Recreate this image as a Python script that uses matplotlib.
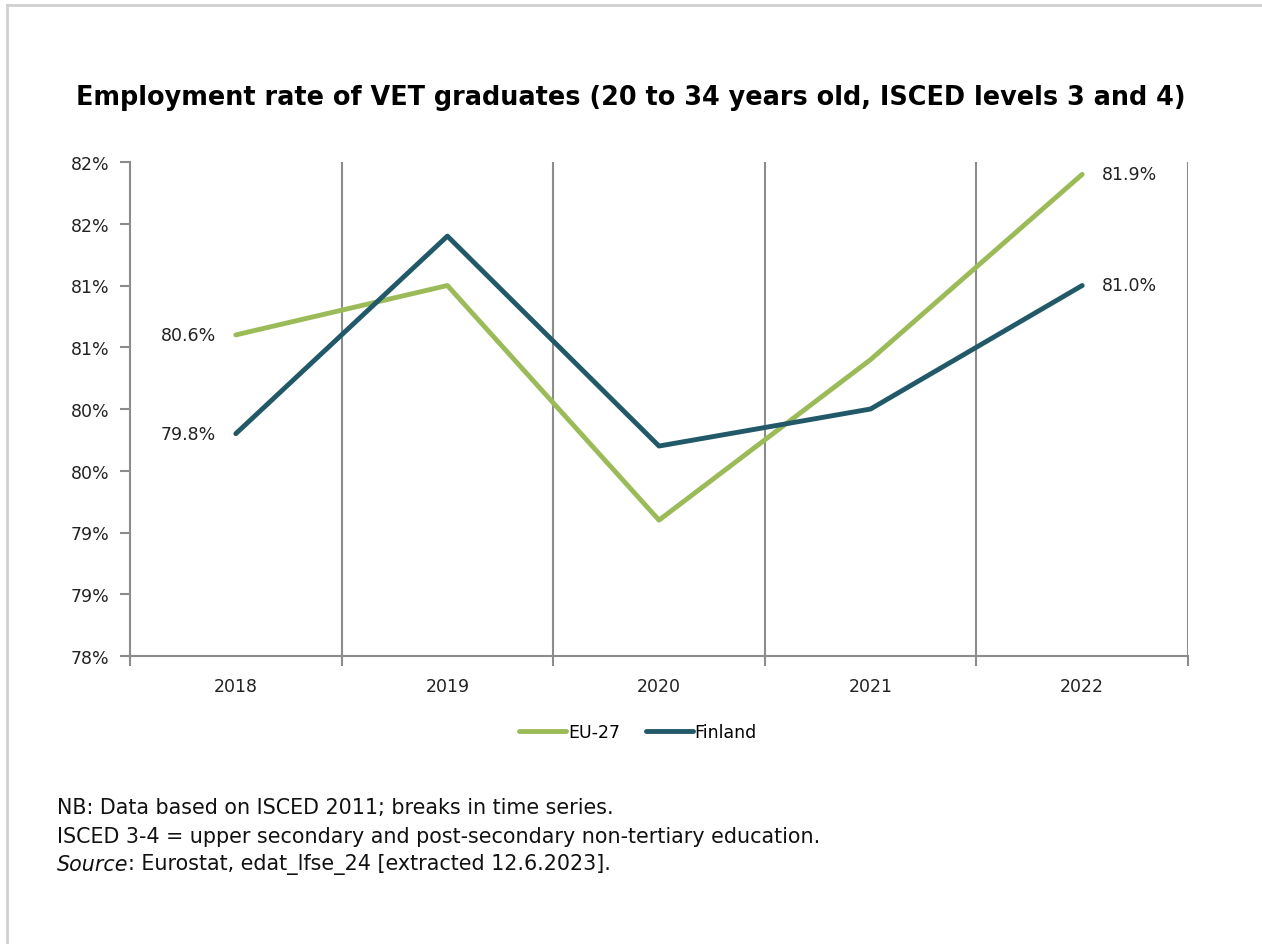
import matplotlib.pyplot as plt
from matplotlib.lines import Line2D

plt.rcParams['font.family'] = ['DejaVu Sans']

# Data
years = ['2018', '2019', '2020', '2021', '2022']
eu27 = [80.6, 81.0, 79.1, 80.4, 81.9]
finland = [79.8, 81.4, 79.7, 80.0, 81.0]
y_ticks = [78.0, 78.5, 79.0, 79.5, 80.0, 80.5, 81.0, 81.5, 82.0]
y_tick_labels = ['78%', '79%', '79%', '80%', '80%', '81%', '81%', '82%', '82%']

green = '#9BBB59'
teal = '#215968'
grid_grey = '#8c8c8c'

fig = plt.figure(figsize=(12.62, 9.45), dpi=100)

# light border along top and left edge
fig.add_artist(Line2D([7/1262, 7/1262], [0, 1 - 6/945], color='#d0d0d0', lw=2))
fig.add_artist(Line2D([7/1262, 1], [1 - 6/945, 1 - 6/945], color='#d0d0d0', lw=2))

ax = fig.add_axes([130/1262, 1 - 657/945, (1188 - 130)/1262, (657 - 163)/945])

x = list(range(len(years)))
ax.plot(x, eu27, color=green, lw=3.5, solid_capstyle='round', label='EU-27', zorder=3)
ax.plot(x, finland, color=teal, lw=3.5, solid_capstyle='round', label='Finland', zorder=3)

ax.set_xlim(-0.5, len(years) - 0.5)
ax.set_ylim(78.0, 82.0)

# vertical gridlines on category boundaries
bounds = [i + 0.5 for i in range(len(years))]
for b in bounds:
    ax.axvline(b, color=grid_grey, lw=1.5, zorder=1)

ax.set_xticks([-0.5] + bounds)
ax.set_xticklabels([])
ax.set_xticks(x, minor=True)
ax.set_xticklabels(years, minor=True)
ax.tick_params(axis='x', which='major', length=7, width=1.5, color=grid_grey, direction='out')
ax.tick_params(axis='x', which='minor', length=0, pad=15, labelsize=12.5, labelcolor='#222222')

ax.set_yticks(y_ticks)
ax.set_yticklabels(y_tick_labels)
ax.tick_params(axis='y', length=7, width=1.5, color=grid_grey, labelsize=12.5, labelcolor='#222222', pad=8)

for side in ['top', 'right']:
    ax.spines[side].set_visible(False)
for side in ['left', 'bottom']:
    ax.spines[side].set_color(grid_grey)
    ax.spines[side].set_linewidth(1.5)

# data labels
lab = dict(textcoords='offset points', va='center', fontsize=12.5, color='#222222')
ax.annotate('%.1f%%' % eu27[0], (x[0], eu27[0]), xytext=(-14, 0), ha='right', **lab)
ax.annotate('%.1f%%' % finland[0], (x[0], finland[0]), xytext=(-14, 0), ha='right', **lab)
ax.annotate('%.1f%%' % eu27[-1], (x[-1], eu27[-1]), xytext=(14, 0), ha='left', **lab)
ax.annotate('%.1f%%' % finland[-1], (x[-1], finland[-1]), xytext=(14, 0), ha='left', **lab)

fig.text(631/1262, 1 - 98/945, 'Employment rate of VET graduates (20 to 34 years old, ISCED levels 3 and 4)',
         ha='center', va='center', fontsize=18.4, fontweight='bold', color='black')

fig.legend(loc='center', bbox_to_anchor=(638/1262, 1 - 733/945), ncol=2, frameon=False,
           fontsize=12.5, handlelength=2.7, handletextpad=0.1, columnspacing=1.5)

# footnotes
fn = dict(fontsize=14.9, color='#111111', va='center')
fig.text(57/1262, 1 - 808/945, 'NB: Data based on ISCED 2011; breaks in time series.', **fn)
fig.text(57/1262, 1 - 837/945, 'ISCED 3-4 = upper secondary and post-secondary non-tertiary education.', **fn)
src = fig.text(57/1262, 1 - 865/945, 'Source', style='italic', **fn)
ax.annotate(': Eurostat, edat_lfse_24 [extracted 12.6.2023].', xy=(1, 0.5), xycoords=src,
            ha='left', **fn)

fig.savefig('out.png', dpi=100)
